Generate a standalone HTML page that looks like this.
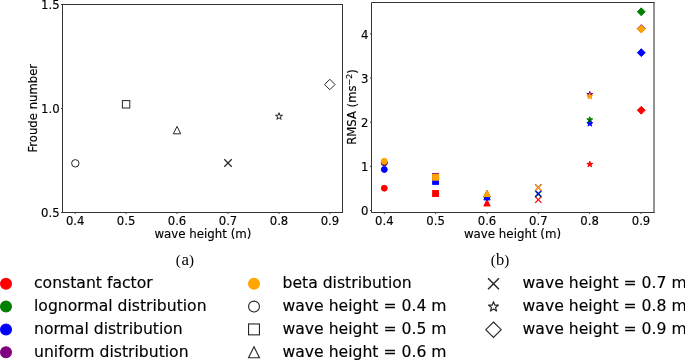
<!DOCTYPE html>
<html lang="en"><head><meta charset="utf-8"><title>Figure</title>
<style>
html,body{margin:0;padding:0;background:#fff;overflow:hidden}
svg{display:block}
text{font-family:"DejaVu Sans","Liberation Sans",sans-serif;fill:#000;stroke:#000;stroke-width:0.15px}
text.cap{font-family:"Liberation Serif","DejaVu Serif",serif;stroke:none}
</style></head><body>
<svg width="685" height="360" viewBox="0 0 685 360">
<rect width="685" height="360" fill="#fff"/>
<rect x="62.5" y="4.5" width="280.00" height="208.00" fill="#fff" stroke="#333333" stroke-width="1"/>
<rect x="371.5" y="2.5" width="282.50" height="210.00" fill="#fff" stroke="none"/>
<path d="M654 2.00V213.00" fill="none" stroke="#8e8e8e" stroke-width="1.9"/>
<path d="M654.45 2.5H371.5V212.5H654.45" fill="none" stroke="#333333" stroke-width="1"/>
<path d="M75.2 212.5v1.5" stroke="#333333" stroke-width="0.9"/>
<text x="75.20" y="224.95" font-size="11.67" text-anchor="middle" >0.4</text>
<path d="M126.1 212.5v1.5" stroke="#333333" stroke-width="0.9"/>
<text x="126.10" y="224.95" font-size="11.67" text-anchor="middle" >0.5</text>
<path d="M177.0 212.5v1.5" stroke="#333333" stroke-width="0.9"/>
<text x="177.00" y="224.95" font-size="11.67" text-anchor="middle" >0.6</text>
<path d="M228.0 212.5v1.5" stroke="#333333" stroke-width="0.9"/>
<text x="228.00" y="224.95" font-size="11.67" text-anchor="middle" >0.7</text>
<path d="M279.0 212.5v1.5" stroke="#333333" stroke-width="0.9"/>
<text x="279.00" y="224.95" font-size="11.67" text-anchor="middle" >0.8</text>
<path d="M329.9 212.5v1.5" stroke="#333333" stroke-width="0.9"/>
<text x="329.90" y="224.95" font-size="11.67" text-anchor="middle" >0.9</text>
<path d="M62.5 4.5h-1.5" stroke="#333333" stroke-width="0.9"/>
<text x="59.60" y="9.05" font-size="11.67" text-anchor="end" >1.5</text>
<path d="M62.5 108.5h-1.5" stroke="#333333" stroke-width="0.9"/>
<text x="59.60" y="113.05" font-size="11.67" text-anchor="end" >1.0</text>
<path d="M62.5 212.5h-1.5" stroke="#333333" stroke-width="0.9"/>
<text x="59.60" y="217.05" font-size="11.67" text-anchor="end" >0.5</text>
<text x="202.90" y="237.60" font-size="11.82" text-anchor="middle" >wave height (m)</text>
<text transform="translate(37,108.2) rotate(-90)" font-size="11.67" text-anchor="middle">Froude number</text>
<circle cx="75.30" cy="163.30" r="3.70" fill="#fff" stroke="#262626" stroke-width="1.0"/>
<rect x="122.40" y="100.60" width="7.40" height="7.40" fill="#fff" stroke="#262626" stroke-width="1.0" stroke-linejoin="miter"/>
<path d="M177.00 126.40L173.30 133.80L180.70 133.80Z" fill="#fff" stroke="#262626" stroke-width="1.0" stroke-linejoin="miter"/>
<path d="M224.30 159.30L231.70 166.70M224.30 166.70L231.70 159.30" fill="none" stroke="#262626" stroke-width="1.25" stroke-linecap="butt"/>
<path d="M279.00 112.70L279.83 115.26L282.52 115.26L280.34 116.84L281.17 119.39L279.00 117.81L276.83 119.39L277.66 116.84L275.48 115.26L278.17 115.26Z" fill="#fff" stroke="#262626" stroke-width="1.0" stroke-linejoin="bevel"/>
<path d="M329.80 79.27L335.03 84.50L329.80 89.73L324.57 84.50Z" fill="#fff" stroke="#262626" stroke-width="1.0" stroke-linejoin="miter"/>
<path d="M384.3 212.5v1.5" stroke="#333333" stroke-width="0.9"/>
<text x="384.30" y="224.95" font-size="11.67" text-anchor="middle" >0.4</text>
<path d="M435.6 212.5v1.5" stroke="#333333" stroke-width="0.9"/>
<text x="435.60" y="224.95" font-size="11.67" text-anchor="middle" >0.5</text>
<path d="M487.0 212.5v1.5" stroke="#333333" stroke-width="0.9"/>
<text x="487.00" y="224.95" font-size="11.67" text-anchor="middle" >0.6</text>
<path d="M538.3 212.5v1.5" stroke="#333333" stroke-width="0.9"/>
<text x="538.30" y="224.95" font-size="11.67" text-anchor="middle" >0.7</text>
<path d="M589.6 212.5v1.5" stroke="#333333" stroke-width="0.9"/>
<text x="589.60" y="224.95" font-size="11.67" text-anchor="middle" >0.8</text>
<path d="M641.0 212.5v1.5" stroke="#333333" stroke-width="0.9"/>
<text x="641.00" y="224.95" font-size="11.67" text-anchor="middle" >0.9</text>
<path d="M371.5 210.45h-1.5" stroke="#333333" stroke-width="0.9"/>
<text x="368.40" y="215.15" font-size="11.67" text-anchor="end" >0</text>
<path d="M371.5 166.30h-1.5" stroke="#333333" stroke-width="0.9"/>
<text x="368.40" y="171.00" font-size="11.67" text-anchor="end" >1</text>
<path d="M371.5 122.15h-1.5" stroke="#333333" stroke-width="0.9"/>
<text x="368.40" y="126.85" font-size="11.67" text-anchor="end" >2</text>
<path d="M371.5 78.00h-1.5" stroke="#333333" stroke-width="0.9"/>
<text x="368.40" y="82.70" font-size="11.67" text-anchor="end" >3</text>
<path d="M371.5 33.85h-1.5" stroke="#333333" stroke-width="0.9"/>
<text x="368.40" y="38.55" font-size="11.67" text-anchor="end" >4</text>
<text x="512.50" y="237.60" font-size="11.84" text-anchor="middle" >wave height (m)</text>
<text transform="translate(356,107.0) rotate(-90)" font-size="11.67" text-anchor="middle">RMSA (ms<tspan dy="-4.2" font-size="7.94">−2</tspan><tspan dy="4.2">)</tspan></text>
<circle cx="384.30" cy="188.20" r="2.95" fill="#ff0000" stroke="#ff0000" stroke-width="1.0"/>
<rect x="432.65" y="190.55" width="5.90" height="5.90" fill="#ff0000" stroke="#ff0000" stroke-width="1.0" stroke-linejoin="miter"/>
<path d="M487.00 199.65L483.85 205.95L490.15 205.95Z" fill="#ff0000" stroke="#ff0000" stroke-width="1.0" stroke-linejoin="miter"/>
<path d="M535.15 196.65L541.45 202.95M535.15 202.95L541.45 196.65" fill="none" stroke="#ff0000" stroke-width="1.2" stroke-linecap="butt"/>
<path d="M589.80 161.20L590.50 163.34L592.75 163.34L590.93 164.67L591.62 166.81L589.80 165.48L587.98 166.81L588.67 164.67L586.85 163.34L589.10 163.34Z" fill="#ff0000" stroke="#ff0000" stroke-width="1.0" stroke-linejoin="bevel"/>
<path d="M641.25 106.33L645.17 110.25L641.25 114.17L637.33 110.25Z" fill="#ff0000" stroke="#ff0000" stroke-width="1.0" stroke-linejoin="miter"/>
<circle cx="384.30" cy="162.80" r="2.95" fill="#008000" stroke="#008000" stroke-width="1.0"/>
<rect x="432.65" y="174.05" width="5.90" height="5.90" fill="#008000" stroke="#008000" stroke-width="1.0" stroke-linejoin="miter"/>
<path d="M487.00 191.05L483.85 197.35L490.15 197.35Z" fill="#008000" stroke="#008000" stroke-width="1.0" stroke-linejoin="miter"/>
<path d="M535.15 191.05L541.45 197.35M535.15 197.35L541.45 191.05" fill="none" stroke="#008000" stroke-width="1.2" stroke-linecap="butt"/>
<path d="M589.80 116.70L590.50 118.84L592.75 118.84L590.93 120.17L591.62 122.31L589.80 120.98L587.98 122.31L588.67 120.17L586.85 118.84L589.10 118.84Z" fill="#008000" stroke="#008000" stroke-width="1.0" stroke-linejoin="bevel"/>
<path d="M641.25 7.83L645.17 11.75L641.25 15.67L637.33 11.75Z" fill="#008000" stroke="#008000" stroke-width="1.0" stroke-linejoin="miter"/>
<circle cx="384.30" cy="169.50" r="2.95" fill="#0000ff" stroke="#0000ff" stroke-width="1.0"/>
<rect x="432.65" y="178.45" width="5.90" height="5.90" fill="#0000ff" stroke="#0000ff" stroke-width="1.0" stroke-linejoin="miter"/>
<path d="M487.00 193.65L483.85 199.95L490.15 199.95Z" fill="#0000ff" stroke="#0000ff" stroke-width="1.0" stroke-linejoin="miter"/>
<path d="M535.15 190.35L541.45 196.65M535.15 196.65L541.45 190.35" fill="none" stroke="#0000ff" stroke-width="1.2" stroke-linecap="butt"/>
<path d="M589.80 120.50L590.50 122.64L592.75 122.64L590.93 123.97L591.62 126.11L589.80 124.78L587.98 126.11L588.67 123.97L586.85 122.64L589.10 122.64Z" fill="#0000ff" stroke="#0000ff" stroke-width="1.0" stroke-linejoin="bevel"/>
<path d="M641.25 48.73L645.17 52.65L641.25 56.57L637.33 52.65Z" fill="#0000ff" stroke="#0000ff" stroke-width="1.0" stroke-linejoin="miter"/>
<circle cx="384.30" cy="162.60" r="2.95" fill="#800080" stroke="#800080" stroke-width="1.0"/>
<rect x="432.65" y="173.45" width="5.90" height="5.90" fill="#800080" stroke="#800080" stroke-width="1.0" stroke-linejoin="miter"/>
<path d="M487.00 190.35L483.85 196.65L490.15 196.65Z" fill="#800080" stroke="#800080" stroke-width="1.0" stroke-linejoin="miter"/>
<path d="M535.15 184.25L541.45 190.55M535.15 190.55L541.45 184.25" fill="none" stroke="#800080" stroke-width="1.2" stroke-linecap="butt"/>
<path d="M589.80 91.40L590.50 93.54L592.75 93.54L590.93 94.87L591.62 97.01L589.80 95.68L587.98 97.01L588.67 94.87L586.85 93.54L589.10 93.54Z" fill="#800080" stroke="#800080" stroke-width="1.0" stroke-linejoin="bevel"/>
<path d="M641.25 24.63L645.17 28.55L641.25 32.47L637.33 28.55Z" fill="#800080" stroke="#800080" stroke-width="1.0" stroke-linejoin="miter"/>
<circle cx="384.30" cy="161.30" r="2.95" fill="#ffa500" stroke="#ffa500" stroke-width="1.0"/>
<rect x="432.65" y="174.25" width="5.90" height="5.90" fill="#ffa500" stroke="#ffa500" stroke-width="1.0" stroke-linejoin="miter"/>
<path d="M487.00 190.15L483.85 196.45L490.15 196.45Z" fill="#ffa500" stroke="#ffa500" stroke-width="1.0" stroke-linejoin="miter"/>
<path d="M535.15 184.45L541.45 190.75M535.15 190.75L541.45 184.45" fill="none" stroke="#ffa500" stroke-width="1.2" stroke-linecap="butt"/>
<path d="M589.80 93.40L590.50 95.54L592.75 95.54L590.93 96.87L591.62 99.01L589.80 97.68L587.98 99.01L588.67 96.87L586.85 95.54L589.10 95.54Z" fill="#ffa500" stroke="#ffa500" stroke-width="1.0" stroke-linejoin="bevel"/>
<path d="M641.25 25.13L645.17 29.05L641.25 32.97L637.33 29.05Z" fill="#ffa500" stroke="#ffa500" stroke-width="1.0" stroke-linejoin="miter"/>
<text class="cap" y="265.3" font-size="15"><tspan x="175.8" dy="-0.7">(</tspan><tspan x="181.5" dy="0.7" font-size="16.8">a</tspan><tspan x="189.0" dy="-0.7" font-size="15">)</tspan></text>
<text class="cap" y="265.3" font-size="15"><tspan x="490.8" dy="-0.7">(</tspan><tspan x="496.1" dy="0.7" font-size="16.4">b</tspan><tspan x="504.2" dy="-0.7" font-size="15">)</tspan></text>
<circle cx="6.00" cy="283.70" r="5.45" fill="#ff0000" stroke="#ff0000" stroke-width="1.1"/>
<text x="34.00" y="288.10" font-size="15.64" text-anchor="start" >constant factor</text>
<circle cx="6.00" cy="306.55" r="5.45" fill="#008000" stroke="#008000" stroke-width="1.1"/>
<text x="34.00" y="310.95" font-size="15.64" text-anchor="start" >lognormal distribution</text>
<circle cx="6.00" cy="329.40" r="5.45" fill="#0000ff" stroke="#0000ff" stroke-width="1.1"/>
<text x="34.00" y="333.80" font-size="15.64" text-anchor="start" >normal distribution</text>
<circle cx="6.00" cy="352.30" r="5.45" fill="#800080" stroke="#800080" stroke-width="1.1"/>
<text x="34.00" y="356.70" font-size="15.64" text-anchor="start" >uniform distribution</text>
<circle cx="254.00" cy="283.70" r="5.45" fill="#ffa500" stroke="#ffa500" stroke-width="1.1"/>
<text x="282.50" y="288.10" font-size="15.64" text-anchor="start" >beta distribution</text>
<circle cx="254.00" cy="306.55" r="5.45" fill="#fff" stroke="#262626" stroke-width="1.1"/>
<text x="282.50" y="310.95" font-size="15.64" text-anchor="start" >wave height = 0.4 m</text>
<rect x="248.55" y="323.95" width="10.90" height="10.90" fill="#fff" stroke="#262626" stroke-width="1.1" stroke-linejoin="miter"/>
<text x="282.50" y="333.80" font-size="15.64" text-anchor="start" >wave height = 0.5 m</text>
<path d="M254.00 346.85L248.55 357.75L259.45 357.75Z" fill="#fff" stroke="#262626" stroke-width="1.1" stroke-linejoin="miter"/>
<text x="282.50" y="356.70" font-size="15.64" text-anchor="start" >wave height = 0.6 m</text>
<path d="M488.05 278.25L498.95 289.15M488.05 289.15L498.95 278.25" fill="none" stroke="#262626" stroke-width="1.45" stroke-linecap="butt"/>
<text x="522.60" y="288.10" font-size="15.64" text-anchor="start" >wave height = 0.7 m</text>
<path d="M493.50 301.40L494.72 305.17L498.68 305.17L495.48 307.49L496.70 311.26L493.50 308.93L490.30 311.26L491.52 307.49L488.32 305.17L492.28 305.17Z" fill="#fff" stroke="#262626" stroke-width="1.1" stroke-linejoin="bevel"/>
<text x="522.60" y="310.95" font-size="15.64" text-anchor="start" >wave height = 0.8 m</text>
<path d="M493.50 321.99L501.21 329.70L493.50 337.41L485.79 329.70Z" fill="#fff" stroke="#262626" stroke-width="1.1" stroke-linejoin="miter"/>
<text x="522.60" y="333.80" font-size="15.64" text-anchor="start" >wave height = 0.9 m</text>
</svg>
</body></html>
